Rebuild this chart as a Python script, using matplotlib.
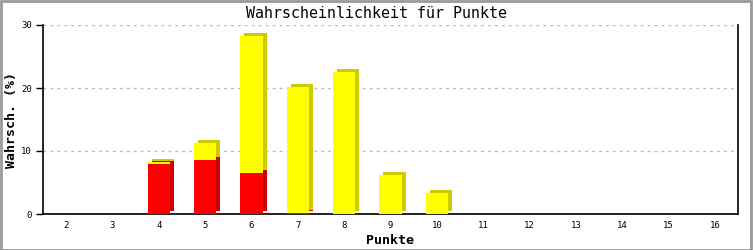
import matplotlib
matplotlib.use("Agg")
import matplotlib.pyplot as plt
import matplotlib.transforms as mtransforms
from matplotlib.patches import Rectangle
import numpy as np

# data
punkte = ["2", "3", "4", "5", "6", "7", "8", "9", "10", "11", "12", "13", "14", "15", "16"]
gelb = [0, 0, 8.3, 11.3, 28.3, 20.2, 22.6, 6.2, 3.4, 0, 0, 0, 0, 0, 0]
rot = [0, 0, 8.0, 8.6, 6.5, 0.15, 0, 0, 0, 0, 0, 0, 0, 0, 0]

plt.rcParams['font.family'] = ['DejaVu Sans Mono']

fig = plt.figure(figsize=(7.53, 2.5), dpi=100)
ax = fig.add_axes([43 / 753, 1 - 214 / 250, (738 - 43) / 753, (214 - 25) / 250])

x = np.arange(len(punkte))
w = 0.475

# 3d look: a darker copy shifted right/up sits behind the front faces
shift = mtransforms.offset_copy(ax.transData, fig=fig, x=4, y=3, units='dots')

g = np.array(gelb, dtype=float)
r = np.array(rot, dtype=float)
mg, mr = g > 0, r > 0
ax.bar(x[mg], g[mg], width=w, color='#cccc00', transform=shift, zorder=3, linewidth=0)
ax.bar(x[mr], r[mr], width=w, color='#cc0000', transform=shift, zorder=3.2, linewidth=0)
ax.bar(x[mg], g[mg], width=w, color='#ffff00', zorder=3.4, linewidth=0)
ax.bar(x[mr], r[mr], width=w, color='#ff0000', zorder=3.6, linewidth=0)

ax.set_xlim(-0.5, len(punkte) - 0.5)
ax.set_ylim(0, 30)
ax.set_yticks([0, 10, 20, 30])
ax.set_xticks(x)
ax.set_xticklabels(punkte)
ax.tick_params(axis='x', length=0, labelsize=6.5, pad=5)
ax.tick_params(axis='y', length=5, width=1, labelsize=6.5, pad=3)
ax.yaxis.grid(True, color='#bbbbbb', linestyle=(0, (2, 3)), linewidth=1)
ax.set_axisbelow(True)
ax.spines['top'].set_visible(False)
for s in ['left', 'right', 'bottom']:
    ax.spines[s].set_linewidth(1.2)

ax.set_xlabel("Punkte", fontsize=9.5, fontweight='bold', labelpad=3)
ax.set_ylabel("Wahrsch. (%)", fontsize=9.5, fontweight='bold', va='center')
ax.yaxis.set_label_coords((12 - 43) / 695, 0.5)
fig.text(376 / 753, 1 - 13 / 250, "Wahrscheinlichkeit für Punkte", ha='center', va='center', fontsize=10.8)

fig.patches.append(Rectangle((0.001, 0.002), 0.997, 0.996, transform=fig.transFigure,
                             fill=False, edgecolor='#999999', linewidth=2))

fig.savefig("out.png", dpi=100)
